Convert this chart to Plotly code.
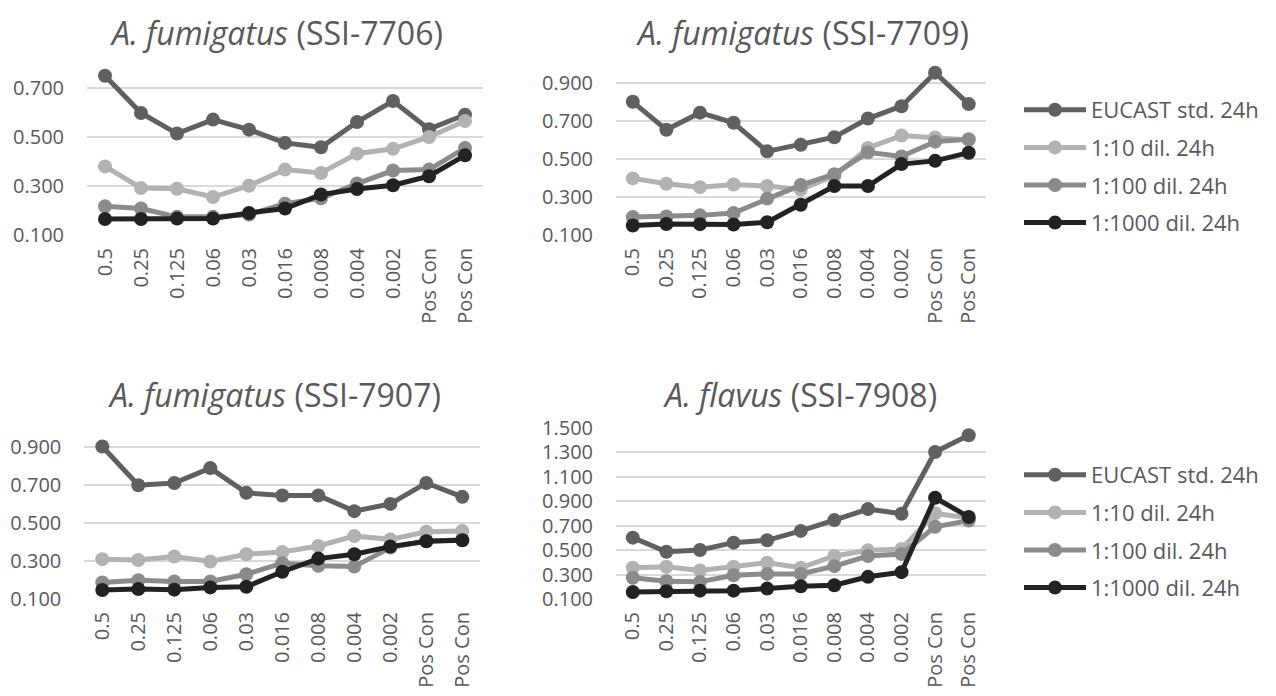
import plotly.graph_objects as go

concentrations = ["0.5", "0.25", "0.125", "0.06", "0.03", "0.016", "0.008", "0.004", "0.002", "Pos Con", "Pos Con"]
series_names = ["EUCAST std. 24h", "1:10 dil. 24h", "1:100 dil. 24h", "1:1000 dil. 24h"]

# SSI-7706
s7706_eucast = [0.750, 0.598, 0.514, 0.571, 0.530, 0.476, 0.458, 0.561, 0.647, 0.532, 0.591]
s7706_d10    = [0.380, 0.292, 0.289, 0.255, 0.301, 0.367, 0.353, 0.432, 0.452, 0.500, 0.565]
s7706_d100   = [0.217, 0.208, 0.174, 0.174, 0.183, 0.228, 0.250, 0.310, 0.363, 0.367, 0.455]
s7706_d1000  = [0.165, 0.165, 0.167, 0.167, 0.190, 0.208, 0.265, 0.288, 0.303, 0.340, 0.425]

# SSI-7709
s7709_eucast = [0.799, 0.652, 0.742, 0.689, 0.539, 0.574, 0.613, 0.711, 0.776, 0.952, 0.787]
s7709_d10    = [0.397, 0.369, 0.351, 0.365, 0.357, 0.339, 0.410, 0.557, 0.622, 0.612, 0.598]
s7709_d100   = [0.194, 0.197, 0.203, 0.215, 0.291, 0.362, 0.419, 0.534, 0.512, 0.590, 0.603]
s7709_d1000  = [0.150, 0.158, 0.157, 0.155, 0.167, 0.259, 0.357, 0.357, 0.472, 0.489, 0.532]

# SSI-7907
s7907_eucast = [0.900, 0.697, 0.709, 0.787, 0.657, 0.643, 0.643, 0.561, 0.599, 0.709, 0.636]
s7907_d10    = [0.309, 0.305, 0.323, 0.297, 0.335, 0.347, 0.378, 0.430, 0.413, 0.453, 0.457]
s7907_d100   = [0.187, 0.199, 0.192, 0.192, 0.230, 0.288, 0.274, 0.270, 0.370, 0.404, 0.410]
s7907_d1000  = [0.147, 0.152, 0.149, 0.161, 0.164, 0.243, 0.312, 0.335, 0.375, 0.403, 0.408]

# SSI-7908
s7908_eucast = [0.601, 0.486, 0.500, 0.560, 0.579, 0.656, 0.744, 0.834, 0.796, 1.300, 1.437]
s7908_d10    = [0.355, 0.363, 0.333, 0.363, 0.396, 0.355, 0.451, 0.497, 0.508, 0.800, 0.760]
s7908_d100   = [0.273, 0.245, 0.240, 0.294, 0.305, 0.305, 0.368, 0.451, 0.467, 0.690, 0.740]
s7908_d1000  = [0.157, 0.163, 0.168, 0.168, 0.185, 0.204, 0.212, 0.281, 0.319, 0.926, 0.770]

panel_titles = [
    "<i>A. fumigatus</i> (SSI-7706)",
    "<i>A. fumigatus</i> (SSI-7709)",
    "<i>A. fumigatus</i> (SSI-7907)",
    "<i>A. flavus</i> (SSI-7908)",
]

colors = ["#606060", "#b2b2b2", "#8b8b8b", "#222222"]
FONT = "Open Sans, DejaVu Sans, sans-serif"
TXT = "#595959"

OFF = 8  # default page body margin
W, H = 1276 - 2 * OFF, 696 - 2 * OFF


def px(x):
    return (x - OFF) / W


def py(y):
    return 1 - (y - OFF) / H


panels = [
    dict(data=[s7706_eucast, s7706_d10, s7706_d100, s7706_d1000], xd=(87, 483), yd=(63.5, 235), yr=[0.1, 0.8], leg=None, title=(276, 8.5)),
    dict(data=[s7709_eucast, s7709_d10, s7709_d100, s7709_d1000], xd=(616, 985.5), yd=(63.5, 235), yr=[0.1, 1.0], leg="legend", title=(802, 8.5)),
    dict(data=[s7907_eucast, s7907_d10, s7907_d100, s7907_d1000], xd=(84.3, 480.3), yd=(427.5, 599), yr=[0.1, 1.0], leg=None, title=(274, 371)),
    dict(data=[s7908_eucast, s7908_d10, s7908_d100, s7908_d1000], xd=(616, 985.5), yd=(427.5, 599), yr=[0.1, 1.5], leg="legend2", title=(800, 371)),
]

fig = go.Figure()
xs = list(range(len(concentrations)))
layout = {}
annotations = []
for i, p in enumerate(panels):
    n = "" if i == 0 else str(i + 1)
    for j, (vals, name) in enumerate(zip(p["data"], series_names)):
        tr = dict(
            x=xs, y=vals, name=name, mode="lines+markers",
            line=dict(color=colors[j], width=5),
            marker=dict(color=colors[j], size=14),
            xaxis="x" + n, yaxis="y" + n,
            showlegend=p["leg"] is not None,
            legendgroup=f"{p['leg']}_{j}",
            hoverinfo="skip",
        )
        if p["leg"]:
            tr["legend"] = p["leg"]
        fig.add_trace(go.Scatter(**tr))
    layout["xaxis" + n] = dict(
        domain=[px(p["xd"][0]), px(p["xd"][1])], anchor="y" + n,
        range=[-0.5, len(concentrations) - 0.5],
        tickmode="array", tickvals=xs, ticktext=concentrations, tickangle=-90,
        showgrid=False, zeroline=False, showline=False,
        ticks="outside", ticklen=4, tickcolor="rgba(0,0,0,0)",
        tickfont=dict(family=FONT, size=20, color=TXT), automargin=False,
    )
    layout["yaxis" + n] = dict(
        domain=[py(p["yd"][1]), py(p["yd"][0])], anchor="x" + n,
        range=p["yr"], tick0=0.1, dtick=0.2, tickformat=".3f",
        showgrid=True, gridcolor="#d9d9d9", gridwidth=1.5,
        zeroline=False, showline=False,
        ticks="outside", ticklen=18, tickcolor="rgba(0,0,0,0)",
        tickfont=dict(family=FONT, size=20, color=TXT), automargin=False,
    )
    annotations.append(dict(
        text=panel_titles[i], xref="paper", yref="paper",
        x=px(p["title"][0]), y=py(p["title"][1]),
        xanchor="center", yanchor="top", showarrow=False,
        font=dict(family=FONT, size=32, color=TXT),
    ))

leg_common = dict(
    font=dict(family=FONT, size=22, color=TXT), xanchor="left", yanchor="top",
    itemwidth=62, tracegroupgap=6, bgcolor="rgba(0,0,0,0)", borderwidth=0,
    itemclick=False, itemdoubleclick=False,
)
layout["legend"] = dict(x=px(1019), y=py(89), **leg_common)
layout["legend2"] = dict(x=px(1019), y=py(454), **leg_common)

fig.update_layout(
    width=W, height=H, margin=dict(l=0, r=0, t=0, b=0),
    paper_bgcolor="white", plot_bgcolor="white",
    annotations=annotations, **layout,
)
fig.write_html("out.html")
